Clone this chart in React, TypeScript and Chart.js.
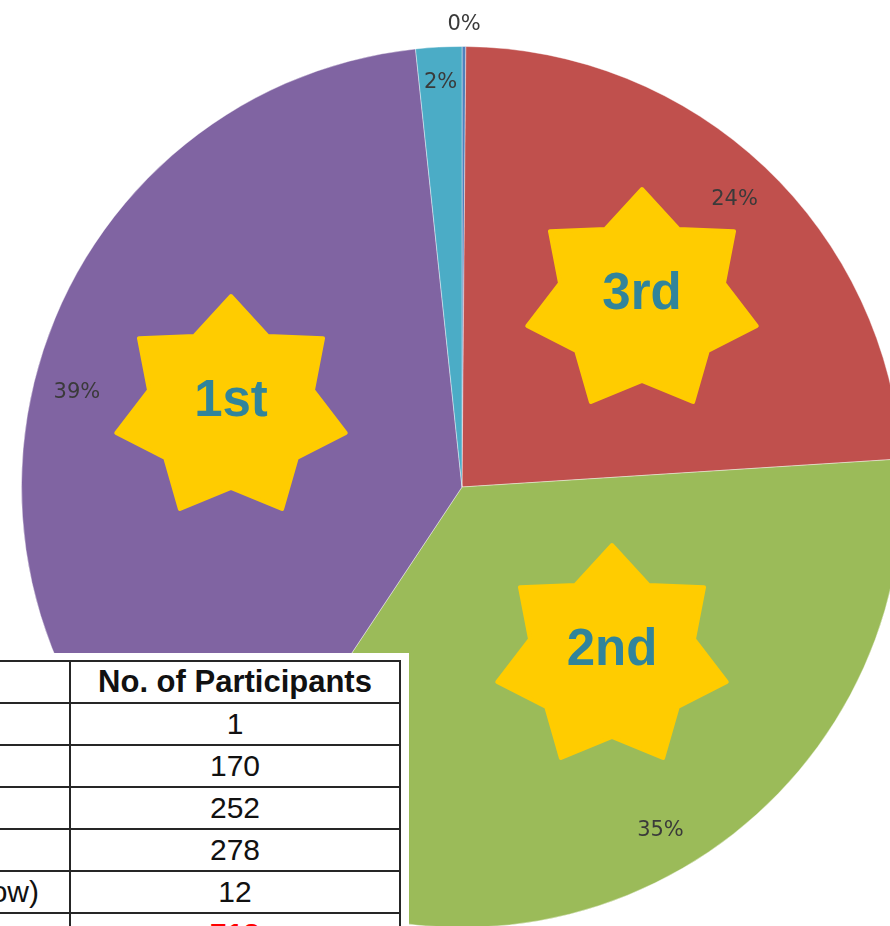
import React, { useEffect, useMemo, useRef } from "react";
import { Chart, registerables } from "chart.js";

Chart.register(...registerables);

// ---- data ----
const categories = ["Not Stated", "Option C", "Option B", "Option A", "Others (See Below)"];
const participants = [1, 170, 252, 278, 12];
const sliceColors = ["#4F81BD", "#C0504D", "#9BBB59", "#8064A2", "#4BACC6"];
const rankLabels = ["1st", "2nd", "3rd"];
const headerLabel = "No. of Participants";
const totalLabel = "Total";
// star centres relative to the pie centre, by rank
const starOffsets: [number, number][] = [
  [-231, -79],
  [150, 170],
  [180, -186],
];

const SANS = "'Liberation Sans', Arial, sans-serif";

function drawStar(ctx: CanvasRenderingContext2D, cx: number, cy: number, R: number, r: number, sx: number) {
  ctx.save();
  ctx.translate(cx, cy);
  ctx.scale(sx, 1);
  ctx.beginPath();
  for (let k = 0; k < 14; k++) {
    const a = -Math.PI / 2 + (k * Math.PI) / 7;
    const rad = k % 2 === 0 ? R : r;
    const x = Math.cos(a) * rad;
    const y = Math.sin(a) * rad;
    if (k === 0) ctx.moveTo(x, y);
    else ctx.lineTo(x, y);
  }
  ctx.closePath();
  ctx.fill();
  ctx.stroke();
  ctx.restore();
}

const overlayPlugin = {
  id: "overlay",
  afterDatasetsDraw(chart: any) {
    const ctx: CanvasRenderingContext2D = chart.ctx;
    const meta = chart.getDatasetMeta(0);
    const data = chart.data.datasets[0].data as number[];
    const total = data.reduce((a, b) => a + b, 0);
    const first = meta.data[0].getProps(["x", "y"], true);
    const pcx = first.x;
    const pcy = first.y;

    // stars by rank
    const order = data
      .map((v, i) => ({ v, i }))
      .sort((a, b) => b.v - a.v)
      .slice(0, rankLabels.length);
    ctx.save();
    order.forEach((_, rank) => {
      const [dx, dy] = starOffsets[rank];
      const cx = pcx + dx;
      const cy = pcy + dy;
      ctx.fillStyle = "#FFCC00";
      ctx.strokeStyle = "#FFCC00";
      ctx.lineWidth = 4;
      ctx.lineJoin = "round";
      drawStar(ctx, cx, cy, 112, 80, 1.05);
      ctx.fillStyle = "#31849B";
      ctx.font = `bold 51px ${SANS}`;
      ctx.textAlign = "center";
      ctx.textBaseline = "middle";
      ctx.fillText(rankLabels[rank], cx, cy - 6);
    });
    ctx.restore();

    // percentage labels
    ctx.save();
    ctx.font = "21px 'DejaVu Sans', sans-serif";
    ctx.fillStyle = "#3a3a3a";
    ctx.textAlign = "center";
    ctx.textBaseline = "middle";
    meta.data.forEach((arc: any, i: number) => {
      const p = arc.getProps(["x", "y", "startAngle", "endAngle", "outerRadius"], true);
      const mid = (p.startAngle + p.endAngle) / 2;
      const pct = (data[i] / total) * 100;
      const f = pct < 1 ? 1.05 : pct < 5 ? 0.92 : 0.9;
      ctx.fillText(
        Math.round(pct) + "%",
        p.x + Math.cos(mid) * p.outerRadius * f,
        p.y + Math.sin(mid) * p.outerRadius * f
      );
    });
    ctx.restore();
  },
};

export default function App() {
  const canvasRef = useRef<HTMLCanvasElement>(null);

  useEffect(() => {
    const chart = new Chart(canvasRef.current as HTMLCanvasElement, {
      type: "pie",
      data: {
        labels: categories,
        datasets: [
          {
            data: participants,
            backgroundColor: sliceColors,
            borderColor: "rgba(255,255,255,0.4)",
            borderWidth: 1,
          },
        ],
      },
      options: {
        responsive: false,
        animation: false,
        devicePixelRatio: 1,
        layout: { padding: { left: 21, right: 21, top: 46, bottom: 0 } },
        plugins: { legend: { display: false }, tooltip: { enabled: false } },
      },
      plugins: [overlayPlugin],
    } as any);
    return () => chart.destroy();
  }, []);

  const labelWidth = useMemo(() => {
    const c = document.createElement("canvas").getContext("2d") as CanvasRenderingContext2D;
    c.font = `30px ${SANS}`;
    return Math.max(...categories.map((s) => c.measureText(s).width));
  }, []);

  const tableLeft = 37 - 6 - labelWidth;
  const col1 = 69 - tableLeft;
  const col2 = 330;
  const total = participants.reduce((a, b) => a + b, 0);

  const cell: React.CSSProperties = {
    border: "2px solid #262626",
    padding: "0 6px",
    height: 40,
    whiteSpace: "nowrap",
    overflow: "hidden",
    fontFamily: SANS,
    fontSize: 30,
    color: "#111",
    lineHeight: "40px",
  };

  return (
    <div
      style={{
        position: "fixed",
        left: 0,
        top: 0,
        width: 890,
        height: 926,
        overflow: "hidden",
        background: "#fff",
      }}
    >
      <canvas
        ref={canvasRef}
        width={924}
        height={928}
        style={{ position: "absolute", left: 0, top: 0, width: 924, height: 928, display: "block" }}
      />
      <div
        style={{
          position: "absolute",
          left: tableLeft - 10,
          top: 653,
          paddingTop: 7,
          paddingLeft: 10,
          paddingRight: 8,
          height: 330,
          background: "#fff",
        }}
      >
        <table style={{ borderCollapse: "collapse", tableLayout: "fixed", width: col1 + col2 }}>
          <colgroup>
            <col style={{ width: col1 }} />
            <col style={{ width: col2 }} />
          </colgroup>
          <tbody>
            <tr>
              <td style={cell}></td>
              <td style={{ ...cell, textAlign: "center", fontWeight: "bold", fontSize: 31 }}>{headerLabel}</td>
            </tr>
            {categories.map((c, i) => (
              <tr key={c}>
                <td style={{ ...cell, textAlign: "left" }}>{c}</td>
                <td style={{ ...cell, textAlign: "center" }}>{participants[i]}</td>
              </tr>
            ))}
            <tr>
              <td style={{ ...cell, textAlign: "left" }}>{totalLabel}</td>
              <td style={{ ...cell, textAlign: "center", color: "#FF0000", fontWeight: "bold" }}>{total}</td>
            </tr>
          </tbody>
        </table>
      </div>
    </div>
  );
}
